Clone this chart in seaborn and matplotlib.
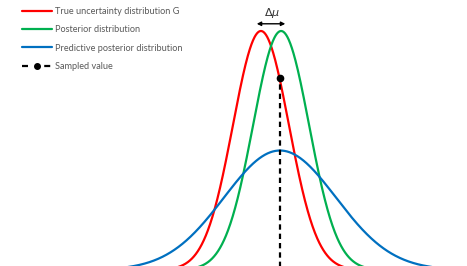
import numpy as np
import pandas as pd
import matplotlib
matplotlib.use("Agg")
import matplotlib.pyplot as plt
import seaborn as sns
from matplotlib.lines import Line2D

# Distribution parameters (in units of the narrow sigma)
mu_true, sigma_true = 0.0, 1.0
mu_post, sigma_post = 0.72, 1.0
mu_pred, sigma_pred = 0.68, 2.0
sample_value = 0.68

labels = ["True uncertainty distribution G", "Posterior distribution",
          "Predictive posterior distribution", "Sampled value"]
colors = ["#ff0000", "#00b050", "#0070c0"]


def pdf(x, mu, s):
    return np.exp(-0.5 * ((x - mu) / s) ** 2) / (s * np.sqrt(2 * np.pi))


x = np.linspace(-9.5, 7.5, 1200)
df = pd.DataFrame({
    "x": np.tile(x, 3),
    "density": np.concatenate([pdf(x, mu_true, sigma_true),
                               pdf(x, mu_post, sigma_post),
                               pdf(x, mu_pred, sigma_pred)]),
    "dist": np.repeat(labels[:3], len(x)),
})

sns.set_style("white")
plt.rcParams["font.family"] = ["Lato", "DejaVu Sans"]

fig = plt.figure(figsize=(4.67, 2.66), dpi=100)
ax = fig.add_axes([0, 0, 1, 1])
sns.lineplot(data=df, x="x", y="density", hue="dist", palette=colors,
             hue_order=labels[:3], linewidth=1.6, legend=False, ax=ax)

# sampled value: dot on the true density, dashed drop line
y_s = pdf(sample_value, mu_true, sigma_true)
ax.plot([sample_value, sample_value], [0, y_s], color="black", lw=1.6,
        linestyle=(0, (2.4, 1.8)))
ax.plot(sample_value, y_s + 0.004, "o", color="black", markersize=4.5)

# delta mu arrow between peaks
ax.annotate("", xy=(mu_true - 0.15, 0.411), xytext=(mu_post + 0.15, 0.411),
            arrowprops=dict(arrowstyle="<|-|>", color="black", lw=1,
                            mutation_scale=6, shrinkA=0, shrinkB=0))
ax.text((mu_true + mu_post) / 2 + 0.05, 0.429, r"$\Delta\mu$", ha="center",
        va="center", fontsize=8, color="#333333")

ax.set_xlim(-9.32, 7.36)
ax.set_ylim(0.0067, 0.4507)
ax.axis("off")

handles = [Line2D([], [], color=c, lw=1.6) for c in colors]
handles.append(Line2D([], [], color="black", lw=1.6, linestyle=(0, (2.7, 7.3)),
                      marker="o", markersize=4))
leg = ax.legend(handles, labels, loc="upper left", bbox_to_anchor=(0.0385, 0.988),
                frameon=False, fontsize=6.6, handlelength=3.3, handletextpad=0.3,
                labelspacing=1.02, borderaxespad=0)
for t in leg.get_texts():
    t.set_color("#595959")

fig.savefig("out.png", dpi=100)
